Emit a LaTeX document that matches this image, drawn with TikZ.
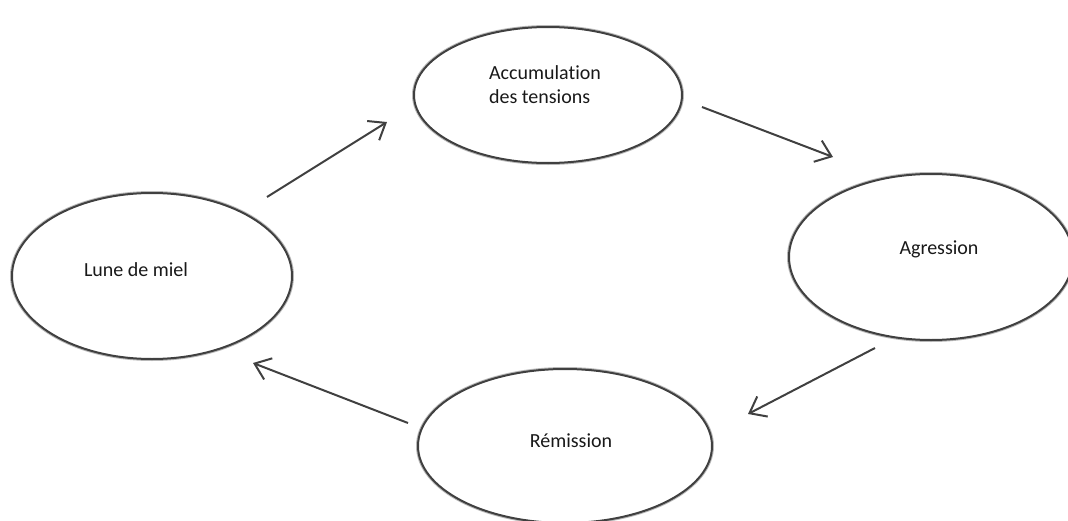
\documentclass[tikz,border=0pt]{standalone}
\usepackage{fontspec}
\setmainfont{Carlito}[Ligatures=NoCommon]
\usetikzlibrary{shapes.geometric,arrows.meta}
\begin{document}
\begin{tikzpicture}[x=0.75pt,y=-0.75pt,
  sketch/.style={draw=black!75, line width=1.5pt, preaction={draw=black!28, line width=3pt}},
  state/.style={ellipse, sketch, fill=white, inner sep=0pt},
  lbl/.style={font=\fontsize{15}{18}\selectfont, align=left, inner sep=0pt, text=black!90},
  arr/.style={draw=black!75, line width=1.5pt, -{Straight Barb[length=11pt,width=17pt]}}]
\useasboundingbox (0,0) rectangle (1068,521);
\clip (0,0) rectangle (1068,521);
\node[state, minimum width=201pt, minimum height=102pt] (acc) at (548,95) {};
\node[state, minimum width=213pt, minimum height=124.5pt] (agr) at (931,257) {};
\node[state, minimum width=220.5pt, minimum height=115.5pt] (rem) at (565,446) {};
\node[state, minimum width=210pt, minimum height=124.5pt] (lune) at (152,276) {};
\node[lbl] (tacc) at (545,85) {Accumulation\\des tensions};
\node[lbl] (tagr) at (939,249) {Agression};
\node[lbl] (trem) at (571,441) {Rémission};
\node[lbl] (tlune) at (136,270) {Lune de miel};
\coordinate (a1s) at (267,197); \coordinate (a1e) at (387,122);
\coordinate (a2s) at (702,107); \coordinate (a2e) at (833,157);
\coordinate (a3s) at (875,348); \coordinate (a3e) at (748,414);
\coordinate (a4s) at (408,423); \coordinate (a4e) at (253,363);
\draw[arr] (a1s) -- (a1e);
\draw[arr] (a2s) -- (a2e);
\draw[arr] (a3s) -- (a3e);
\draw[arr] (a4s) -- (a4e);
\end{tikzpicture}
\end{document}
